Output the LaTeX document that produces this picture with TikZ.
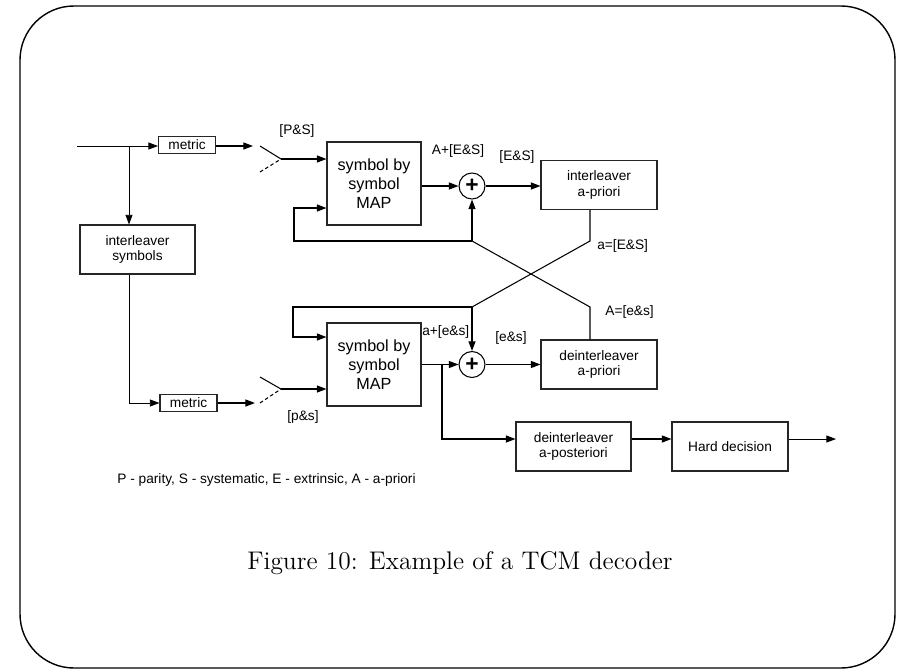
\documentclass[tikz,border=0pt]{standalone}
\usepackage{fontspec}
\setsansfont{Liberation Sans}
\usetikzlibrary{arrows.meta,positioning,calc}

\begin{document}
\begin{tikzpicture}[
    x=0.02cm, y=-0.02cm,
    box/.style={rectangle, draw=black!85, line width=0.6pt, minimum width=2.32cm,
                minimum height=0.98cm, align=center, inner sep=1pt,
                font=\sffamily\fontsize{7.8}{8.8}\selectfont},
    small/.style={box, minimum width=1.14cm, minimum height=0.33cm},
    mapbox/.style={box, minimum width=1.88cm, minimum height=1.66cm,
                font=\sffamily\fontsize{9.2}{10.8}\selectfont},
    sum/.style={circle, draw=black, line width=0.6pt, minimum size=0.52cm, inner sep=0pt,
                font=\sffamily\bfseries\fontsize{13}{13}\selectfont},
    lbl/.style={font=\sffamily\fontsize{7.8}{9}\selectfont, inner sep=0pt},
    line/.style={line width=0.6pt},
    arrow/.style={line width=0.7pt, -{Triangle[length=5.5pt,width=4pt]}}
]
  % Frame
  \useasboundingbox (0,0) rectangle (901,669);
  \draw[line width=0.8pt, rounded corners=1.08cm] (20,6) rectangle (895,668);

  % Input and branch
  \coordinate (in) at (77,146);
  \coordinate (split) at (129,146);

  % Upper path
  \node[small] (metricA) at (187,145) {metric};
  \coordinate (swinA) at (253,146);
  \coordinate (swA) at (281,159);
  \node[mapbox] (mapA) at (374,183.5) {symbol by\\symbol\\MAP};
  \node[sum] (sumA) at (472,186) {+};
  \node[box] (intapr) at (599,185) {interleaver\\a-priori};

  % Interleaver symbols
  \node[box, minimum width=2.3cm] (intsym) at (137.5,249.5) {interleaver\\symbols};

  % Lower path
  \node[small] (metricB) at (188.5,403) {metric};
  \coordinate (swinB) at (255,403);
  \coordinate (swB) at (281,389);
  \node[mapbox] (mapB) at (374,364.5) {symbol by\\symbol\\MAP};
  \node[sum] (sumB) at (472,364.5) {+};
  \node[box] (deintapr) at (599,364.5) {deinterleaver\\a-priori};

  % Output chain
  \node[box, minimum width=2.3cm] (deintapost) at (573.5,446.5) {deinterleaver\\a-posteriori};
  \node[box] (hard) at (730,446.5) {Hard decision};

  % Crossing points
  \coordinate (xA) at (472,241);
  \coordinate (xB) at (472,307);
  \coordinate (aE) at (590,241);
  \coordinate (AE) at (590,307);
  \coordinate (fbA) at (294,208);
  \coordinate (fbB) at (293,337);
  \coordinate (split2) at (442,364.5);
  \coordinate (post) at (442,439);
  \coordinate (metB) at (129,403);
  \coordinate (out) at (836,439);

  % Arrows upper
  \draw[line, line width=0.5pt] (in) -- (split);
  \draw[arrow, line width=0.5pt] (split) -- (split -| metricA.west);
  \draw[arrow] (metricA.east |- swinA) -- (swinA);
  \draw[line] (260,146) -- (swA);
  \draw[line, dash pattern=on 2pt off 1.5pt] (260,172) -- (swA);
  \draw[arrow] (swA) -- (swA -| mapA.west);
  \draw[arrow] (sumA -| mapA.east) -- (sumA.west);
  \draw[arrow] (sumA.east) -- (sumA -| intapr.west);
  \draw[arrow] (xA) -| (fbA) -- (fbA -| mapA.west);
  \draw[arrow] (xA) -- (sumA.south);

  % Cross-over
  \draw[line] (intapr.south -| aE) -- (aE) -- (xB);
  \draw[line] (xA) -- (AE) -- (deintapr.north -| AE);

  % Arrows lower
  \draw[arrow, line width=0.5pt] (split) -- (split |- intsym.north);
  \draw[line, line width=0.5pt] (split |- intsym.south) -- (metB);
  \draw[arrow, line width=0.5pt] (metB) -- (metricB.west);
  \draw[arrow] (metricB.east) -- (swinB);
  \draw[line] (260,377) -- (swB);
  \draw[line, dash pattern=on 2pt off 1.5pt] (260,403) -- (swB);
  \draw[arrow] (swB) -- (swB -| mapB.west);
  \draw[arrow] (xB) -| (fbB) -- (fbB -| mapB.west);
  \draw[arrow] (xB) -- (sumB.north);
  \draw[arrow] (mapB.east |- sumB) -- (sumB.west);
  \draw[arrow] (sumB.east) -- (deintapr.west);
  \draw[arrow] (split2) -- (post) -- (post -| deintapost.west);
  \draw[arrow] (post -| deintapost.east) -- (post -| hard.west);
  \draw[arrow, line width=0.5pt] (post -| hard.east) -- (out);

  % Labels
  \node[lbl] (lPS) at (297,131) {[P\&S]};
  \node[lbl] (lAES) at (458,151) {A+[E\&S]};
  \node[lbl] (lES) at (517,157) {[E\&S]};
  \node[lbl, anchor=west] (laES) at (597,246) {a=[E\&S]};
  \node[lbl, anchor=west] (lAes) at (605,312) {A=[e\&s]};
  \node[lbl, anchor=west] (laes) at (422,332) {a+[e\&s]};
  \node[lbl] (les) at (511,338) {[e\&s]};
  \node[lbl] (lps) at (303,417) {[p\&s]};
  \node[lbl] (legend) at (266.5,480) {P - parity, S - systematic, E - extrinsic, A - a-priori};

  % Caption
  \node[font=\fontsize{14.5}{17}\selectfont] (caption) at (460,563) {Figure 10: Example of a TCM decoder};

\end{tikzpicture}
\end{document}
